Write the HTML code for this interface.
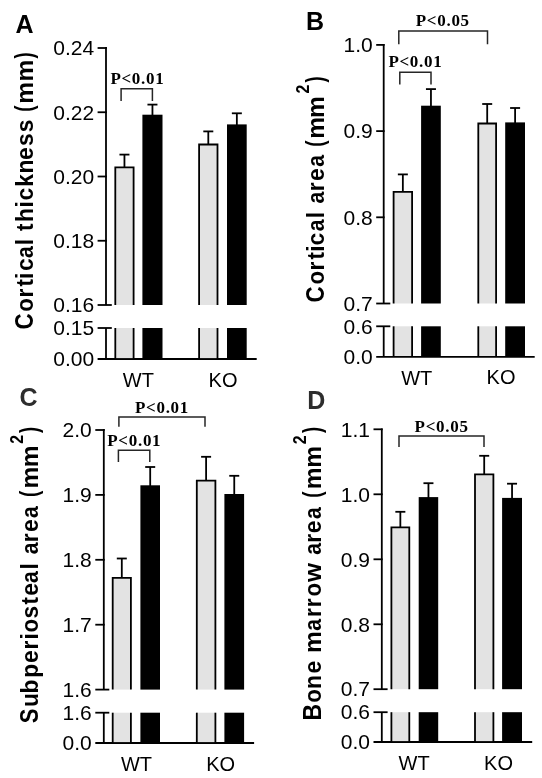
<!DOCTYPE html>
<html><head><meta charset="utf-8"><style>
html,body{margin:0;padding:0;background:#fff;}
svg{display:block;filter:grayscale(1);}
svg line, svg polyline{stroke:#000;stroke-width:1.8;stroke-linecap:butt;fill:none;}
svg rect{stroke:none;}
svg .br{stroke-width:1.5;stroke:#262626;}
.pl2{fill:#2d2d2d !important;}
.tk{font-family:"Liberation Sans",sans-serif;font-size:21px;fill:#000;}
.xl{font-family:"Liberation Sans",sans-serif;font-size:20px;fill:#000;}
.pv{font-family:"Liberation Serif",serif;font-size:17px;font-weight:bold;fill:#000;letter-spacing:0.7px;}
.pl{font-family:"Liberation Sans",sans-serif;font-size:25px;font-weight:bold;fill:#000;}
.ti{font-family:"Liberation Sans",sans-serif;font-size:25px;font-weight:bold;fill:#000;}
</style></head><body>
<svg width="542" height="778" viewBox="0 0 542 778">
<line x1="106" y1="47.1" x2="106" y2="305" />
<line x1="106" y1="328" x2="106" y2="359" />
<line x1="97.6" y1="48" x2="106.9" y2="48" />
<line x1="97.6" y1="112.25" x2="106.9" y2="112.25" />
<line x1="97.6" y1="176.5" x2="106.9" y2="176.5" />
<line x1="97.6" y1="240.75" x2="106.9" y2="240.75" />
<line x1="97.6" y1="305" x2="111.8" y2="305" />
<line x1="97.6" y1="328" x2="111.8" y2="328" />
<line x1="97.6" y1="359" x2="256.7" y2="359" />
<text class="tk" x="94.1" y="55.24" text-anchor="end">0.24</text>
<text class="tk" x="94.1" y="119.50" text-anchor="end">0.22</text>
<text class="tk" x="94.1" y="183.75" text-anchor="end">0.20</text>
<text class="tk" x="94.1" y="248.00" text-anchor="end">0.18</text>
<text class="tk" x="94.1" y="312.25" text-anchor="end">0.16</text>
<text class="tk" x="94.1" y="335.25" text-anchor="end">0.15</text>
<text class="tk" x="94.1" y="366.25" text-anchor="end">0.00</text>
<line x1="124.45" y1="154.6" x2="124.45" y2="167.4" />
<line x1="119.45" y1="154.6" x2="129.45" y2="154.6" />
<rect x="115.30" y="167.30" width="18.30" height="137.70" fill="#e3e3e3"/>
<rect x="115.30" y="328.00" width="18.30" height="30.10" fill="#e3e3e3"/>
<line x1="152.45" y1="104.6" x2="152.45" y2="115.7" />
<line x1="147.45" y1="104.6" x2="157.45" y2="104.6" />
<rect x="142.4" y="114.7" width="20.10" height="190.30" fill="#000" stroke="none"/>
<rect x="142.4" y="328" width="20.10" height="31.00" fill="#000" stroke="none"/>
<line x1="208.30" y1="131.4" x2="208.30" y2="144.6" />
<line x1="203.30" y1="131.4" x2="213.30" y2="131.4" />
<rect x="199.10" y="144.50" width="18.40" height="160.50" fill="#e3e3e3"/>
<rect x="199.10" y="328.00" width="18.40" height="30.10" fill="#e3e3e3"/>
<line x1="236.85" y1="113.3" x2="236.85" y2="125.4" />
<line x1="231.85" y1="113.3" x2="241.85" y2="113.3" />
<rect x="227.0" y="124.4" width="19.70" height="180.60" fill="#000" stroke="none"/>
<rect x="227.0" y="328" width="19.70" height="31.00" fill="#000" stroke="none"/>
<text class="pv" x="137.4" y="83.9" text-anchor="middle">P&lt;0.01</text>
<polyline class="br" points="121.1,101.0 121.1,88.8 152.4,88.8 152.4,101.0" fill="none"/>
<text class="xl" x="138.4" y="386.6" text-anchor="middle">WT</text>
<text class="xl" x="223" y="386.7" text-anchor="middle">KO</text>
<text class="pl" x="15.4" y="32.7">A</text>
<text class="ti" style="font-size:25px" transform="translate(33.3,321.20) rotate(-90) scale(0.89,1)" x="-9.20" y="0">C</text>
<text class="ti" style="font-size:23.5px" transform="translate(33.3,304.95) rotate(-90) scale(0.95,1)" x="-7.18" y="0">o</text>
<text class="ti" style="font-size:23.5px" transform="translate(33.3,292.40) rotate(-90) scale(0.97,1)" x="-5.17" y="0">r</text>
<text class="ti" style="font-size:23.5px" transform="translate(33.3,282.70) rotate(-90) scale(0.95,1)" x="-3.91" y="0">t</text>
<text class="ti" style="font-size:23.5px" transform="translate(33.3,275.75) rotate(-90) scale(0.97,1)" x="-3.25" y="0">i</text>
<text class="ti" style="font-size:23.5px" transform="translate(33.3,264.50) rotate(-90) scale(0.97,1)" x="-6.65" y="0">c</text>
<text class="ti" style="font-size:23.5px" transform="translate(33.3,251.65) rotate(-90) scale(0.9,1)" x="-6.95" y="0">a</text>
<text class="ti" style="font-size:23.5px" transform="translate(33.3,242.00) rotate(-90) scale(0.97,1)" x="-3.25" y="0">l</text>
<text class="ti" style="font-size:23.5px" transform="translate(33.3,227.40) rotate(-90) scale(0.95,1)" x="-3.91" y="0">t</text>
<text class="ti" style="font-size:23.5px" transform="translate(33.3,214.95) rotate(-90) scale(0.97,1)" x="-7.27" y="0">h</text>
<text class="ti" style="font-size:23.5px" transform="translate(33.3,204.25) rotate(-90) scale(0.97,1)" x="-3.25" y="0">i</text>
<text class="ti" style="font-size:23.5px" transform="translate(33.3,194.10) rotate(-90) scale(0.97,1)" x="-6.65" y="0">c</text>
<text class="ti" style="font-size:23.5px" transform="translate(33.3,179.60) rotate(-90) scale(0.97,1)" x="-7.37" y="0">k</text>
<text class="ti" style="font-size:23.5px" transform="translate(33.3,166.50) rotate(-90) scale(0.97,1)" x="-7.22" y="0">n</text>
<text class="ti" style="font-size:23.5px" transform="translate(33.3,153.70) rotate(-90) scale(0.97,1)" x="-6.59" y="0">e</text>
<text class="ti" style="font-size:23.5px" transform="translate(33.3,139.85) rotate(-90) scale(0.97,1)" x="-6.47" y="0">s</text>
<text class="ti" style="font-size:23.5px" transform="translate(33.3,125.95) rotate(-90) scale(0.97,1)" x="-6.47" y="0">s</text>
<text class="ti" style="font-size:25px" transform="translate(33.3,108.25) rotate(-90) scale(0.75,1)" x="-4.77" y="0">(</text>
<text class="ti" style="font-size:23.5px" transform="translate(33.3,92.95) rotate(-90) scale(1.04,1)" x="-10.49" y="0">m</text>
<text class="ti" style="font-size:23.5px" transform="translate(33.3,70.65) rotate(-90) scale(1.04,1)" x="-10.49" y="0">m</text>
<text class="ti" style="font-size:25px" transform="translate(33.3,55.80) rotate(-90) scale(0.73,1)" x="-3.55" y="0">)</text>
<polyline points="115.30,305 115.30,167.30 133.60,167.30 133.60,305" fill="none"/>
<line x1="115.30" y1="328" x2="115.30" y2="359"/>
<line x1="133.60" y1="328" x2="133.60" y2="359"/>
<polyline points="199.10,305 199.10,144.50 217.50,144.50 217.50,305" fill="none"/>
<line x1="199.10" y1="328" x2="199.10" y2="359"/>
<line x1="217.50" y1="328" x2="217.50" y2="359"/>
<line x1="383.7" y1="44.0" x2="383.7" y2="303.5" />
<line x1="383.7" y1="326.3" x2="383.7" y2="356.8" />
<line x1="376.2" y1="44.9" x2="384.59999999999997" y2="44.9" />
<line x1="376.2" y1="131.1" x2="384.59999999999997" y2="131.1" />
<line x1="376.2" y1="217.3" x2="384.59999999999997" y2="217.3" />
<line x1="376.2" y1="303.5" x2="390.3" y2="303.5" />
<line x1="376.2" y1="326.3" x2="390.3" y2="326.3" />
<line x1="376.2" y1="356.8" x2="534.7" y2="356.8" />
<text class="tk" x="372.7" y="52.14" text-anchor="end">1.0</text>
<text class="tk" x="372.7" y="138.34" text-anchor="end">0.9</text>
<text class="tk" x="372.7" y="224.55" text-anchor="end">0.8</text>
<text class="tk" x="372.7" y="310.75" text-anchor="end">0.7</text>
<text class="tk" x="372.7" y="333.55" text-anchor="end">0.6</text>
<text class="tk" x="372.7" y="364.05" text-anchor="end">0.0</text>
<line x1="402.85" y1="174.4" x2="402.85" y2="192.0" />
<line x1="397.85" y1="174.4" x2="407.85" y2="174.4" />
<rect x="393.60" y="191.90" width="18.50" height="111.60" fill="#e3e3e3"/>
<rect x="393.60" y="326.30" width="18.50" height="29.60" fill="#e3e3e3"/>
<line x1="430.95" y1="89.1" x2="430.95" y2="106.7" />
<line x1="425.95" y1="89.1" x2="435.95" y2="89.1" />
<rect x="421.1" y="105.7" width="19.70" height="197.80" fill="#000" stroke="none"/>
<rect x="421.1" y="326.3" width="19.70" height="30.50" fill="#000" stroke="none"/>
<line x1="487.20" y1="104.0" x2="487.20" y2="123.6" />
<line x1="482.20" y1="104.0" x2="492.20" y2="104.0" />
<rect x="478.30" y="123.50" width="17.80" height="180.00" fill="#e3e3e3"/>
<rect x="478.30" y="326.30" width="17.80" height="29.60" fill="#e3e3e3"/>
<line x1="515.10" y1="108.0" x2="515.10" y2="123.4" />
<line x1="510.10" y1="108.0" x2="520.10" y2="108.0" />
<rect x="505.2" y="122.4" width="19.80" height="181.10" fill="#000" stroke="none"/>
<rect x="505.2" y="326.3" width="19.80" height="30.50" fill="#000" stroke="none"/>
<text class="pv" x="442.8" y="26" text-anchor="middle">P&lt;0.05</text>
<polyline class="br" points="398.8,44.3 398.8,31.1 487.5,31.1 487.5,44.3" fill="none"/>
<text class="pv" x="415.4" y="67" text-anchor="middle">P&lt;0.01</text>
<polyline class="br" points="399.8,84.5 399.8,72.3 431.0,72.3 431.0,84.5" fill="none"/>
<text class="xl" x="416.7" y="385.2" text-anchor="middle">WT</text>
<text class="xl" x="501" y="384.4" text-anchor="middle">KO</text>
<text class="pl" x="306.0" y="29.5">B</text>
<text class="ti" style="font-size:25px" transform="translate(323.7,294.20) rotate(-90) scale(0.89,1)" x="-9.20" y="0">C</text>
<text class="ti" style="font-size:23.5px" transform="translate(323.7,277.80) rotate(-90) scale(0.95,1)" x="-7.18" y="0">o</text>
<text class="ti" style="font-size:23.5px" transform="translate(323.7,265.40) rotate(-90) scale(0.97,1)" x="-5.17" y="0">r</text>
<text class="ti" style="font-size:23.5px" transform="translate(323.7,255.70) rotate(-90) scale(0.95,1)" x="-3.91" y="0">t</text>
<text class="ti" style="font-size:23.5px" transform="translate(323.7,248.50) rotate(-90) scale(0.97,1)" x="-3.25" y="0">i</text>
<text class="ti" style="font-size:23.5px" transform="translate(323.7,239.00) rotate(-90) scale(0.97,1)" x="-6.65" y="0">c</text>
<text class="ti" style="font-size:23.5px" transform="translate(323.7,225.05) rotate(-90) scale(0.9,1)" x="-6.95" y="0">a</text>
<text class="ti" style="font-size:23.5px" transform="translate(323.7,215.00) rotate(-90) scale(0.97,1)" x="-3.25" y="0">l</text>
<text class="ti" style="font-size:23.5px" transform="translate(323.7,197.25) rotate(-90) scale(0.9,1)" x="-6.95" y="0">a</text>
<text class="ti" style="font-size:23.5px" transform="translate(323.7,186.30) rotate(-90) scale(0.97,1)" x="-5.17" y="0">r</text>
<text class="ti" style="font-size:23.5px" transform="translate(323.7,174.60) rotate(-90) scale(0.97,1)" x="-6.59" y="0">e</text>
<text class="ti" style="font-size:23.5px" transform="translate(323.7,160.55) rotate(-90) scale(0.9,1)" x="-6.95" y="0">a</text>
<text class="ti" style="font-size:25px" transform="translate(323.7,143.30) rotate(-90) scale(0.75,1)" x="-4.77" y="0">(</text>
<text class="ti" style="font-size:23.5px" transform="translate(323.7,127.80) rotate(-90) scale(1.04,1)" x="-10.49" y="0">m</text>
<text class="ti" style="font-size:23.5px" transform="translate(323.7,107.05) rotate(-90) scale(1.04,1)" x="-10.49" y="0">m</text>
<text class="ti" style="font-size:18.5px" transform="translate(308.7,89.15) rotate(-90) scale(0.86,1)" x="-5.09" y="0">2</text>
<text class="ti" style="font-size:25px" transform="translate(323.7,80.00) rotate(-90) scale(0.73,1)" x="-3.55" y="0">)</text>
<polyline points="393.60,303.5 393.60,191.90 412.10,191.90 412.10,303.5" fill="none"/>
<line x1="393.60" y1="326.3" x2="393.60" y2="356.8"/>
<line x1="412.10" y1="326.3" x2="412.10" y2="356.8"/>
<polyline points="478.30,303.5 478.30,123.50 496.10,123.50 496.10,303.5" fill="none"/>
<line x1="478.30" y1="326.3" x2="478.30" y2="356.8"/>
<line x1="496.10" y1="326.3" x2="496.10" y2="356.8"/>
<line x1="103.8" y1="429.1" x2="103.8" y2="689.6" />
<line x1="103.8" y1="712.7" x2="103.8" y2="743" />
<line x1="95.3" y1="430" x2="104.7" y2="430" />
<line x1="95.3" y1="494.9" x2="104.7" y2="494.9" />
<line x1="95.3" y1="559.8" x2="104.7" y2="559.8" />
<line x1="95.3" y1="624.7" x2="104.7" y2="624.7" />
<line x1="95.3" y1="689.6" x2="109.3" y2="689.6" />
<line x1="95.3" y1="712.7" x2="109.3" y2="712.7" />
<line x1="95.3" y1="743" x2="254.1" y2="743" />
<text class="tk" x="91.8" y="437.25" text-anchor="end">2.0</text>
<text class="tk" x="91.8" y="502.14" text-anchor="end">1.9</text>
<text class="tk" x="91.8" y="567.04" text-anchor="end">1.8</text>
<text class="tk" x="91.8" y="631.95" text-anchor="end">1.7</text>
<text class="tk" x="91.8" y="696.85" text-anchor="end">1.6</text>
<text class="tk" x="91.8" y="719.95" text-anchor="end">1.6</text>
<text class="tk" x="91.8" y="750.25" text-anchor="end">0.0</text>
<line x1="121.80" y1="558.5" x2="121.80" y2="578.0" />
<line x1="116.80" y1="558.5" x2="126.80" y2="558.5" />
<rect x="112.70" y="577.90" width="18.20" height="111.70" fill="#e3e3e3"/>
<rect x="112.70" y="712.70" width="18.20" height="29.40" fill="#e3e3e3"/>
<line x1="150.20" y1="467.0" x2="150.20" y2="486.3" />
<line x1="145.20" y1="467.0" x2="155.20" y2="467.0" />
<rect x="140.4" y="485.3" width="19.60" height="204.30" fill="#000" stroke="none"/>
<rect x="140.4" y="712.7" width="19.60" height="30.30" fill="#000" stroke="none"/>
<line x1="206.10" y1="456.8" x2="206.10" y2="480.8" />
<line x1="201.10" y1="456.8" x2="211.10" y2="456.8" />
<rect x="196.80" y="480.70" width="18.60" height="208.90" fill="#e3e3e3"/>
<rect x="196.80" y="712.70" width="18.60" height="29.40" fill="#e3e3e3"/>
<line x1="234.25" y1="475.8" x2="234.25" y2="495.0" />
<line x1="229.25" y1="475.8" x2="239.25" y2="475.8" />
<rect x="224.4" y="494.0" width="19.70" height="195.60" fill="#000" stroke="none"/>
<rect x="224.4" y="712.7" width="19.70" height="30.30" fill="#000" stroke="none"/>
<text class="pv" x="162" y="412.7" text-anchor="middle">P&lt;0.01</text>
<polyline class="br" points="118.9,426.8 118.9,417.1 205.0,417.1 205.0,426.8" fill="none"/>
<text class="pv" x="134.3" y="445.9" text-anchor="middle">P&lt;0.01</text>
<polyline class="br" points="118.4,462.0 118.4,450.3 149.8,450.3 149.8,462.0" fill="none"/>
<text class="xl" x="136.5" y="770.7" text-anchor="middle">WT</text>
<text class="xl" x="220.7" y="770.7" text-anchor="middle">KO</text>
<text class="pl pl2" x="19.599999999999998" y="405.5">C</text>
<text class="ti" style="font-size:25px" transform="translate(38.3,716.00) rotate(-90) scale(0.88,1)" x="-8.21" y="0">S</text>
<text class="ti" style="font-size:23.5px" transform="translate(38.3,700.00) rotate(-90) scale(0.97,1)" x="-7.13" y="0">u</text>
<text class="ti" style="font-size:23.5px" transform="translate(38.3,686.30) rotate(-90) scale(0.97,1)" x="-7.47" y="0">b</text>
<text class="ti" style="font-size:23.5px" transform="translate(38.3,670.45) rotate(-90) scale(0.97,1)" x="-7.47" y="0">p</text>
<text class="ti" style="font-size:23.5px" transform="translate(38.3,656.60) rotate(-90) scale(0.97,1)" x="-6.59" y="0">e</text>
<text class="ti" style="font-size:23.5px" transform="translate(38.3,644.50) rotate(-90) scale(0.97,1)" x="-5.17" y="0">r</text>
<text class="ti" style="font-size:23.5px" transform="translate(38.3,636.35) rotate(-90) scale(0.97,1)" x="-3.25" y="0">i</text>
<text class="ti" style="font-size:23.5px" transform="translate(38.3,625.70) rotate(-90) scale(0.95,1)" x="-7.18" y="0">o</text>
<text class="ti" style="font-size:23.5px" transform="translate(38.3,612.15) rotate(-90) scale(0.97,1)" x="-6.47" y="0">s</text>
<text class="ti" style="font-size:23.5px" transform="translate(38.3,600.90) rotate(-90) scale(0.95,1)" x="-3.91" y="0">t</text>
<text class="ti" style="font-size:23.5px" transform="translate(38.3,589.30) rotate(-90) scale(0.97,1)" x="-6.59" y="0">e</text>
<text class="ti" style="font-size:23.5px" transform="translate(38.3,576.70) rotate(-90) scale(0.9,1)" x="-6.95" y="0">a</text>
<text class="ti" style="font-size:23.5px" transform="translate(38.3,566.35) rotate(-90) scale(0.97,1)" x="-3.25" y="0">l</text>
<text class="ti" style="font-size:23.5px" transform="translate(38.3,548.10) rotate(-90) scale(0.9,1)" x="-6.95" y="0">a</text>
<text class="ti" style="font-size:23.5px" transform="translate(38.3,537.25) rotate(-90) scale(0.97,1)" x="-5.17" y="0">r</text>
<text class="ti" style="font-size:23.5px" transform="translate(38.3,525.70) rotate(-90) scale(0.97,1)" x="-6.59" y="0">e</text>
<text class="ti" style="font-size:23.5px" transform="translate(38.3,511.85) rotate(-90) scale(0.9,1)" x="-6.95" y="0">a</text>
<text class="ti" style="font-size:25px" transform="translate(38.3,493.50) rotate(-90) scale(0.75,1)" x="-4.77" y="0">(</text>
<text class="ti" style="font-size:23.5px" transform="translate(38.3,477.50) rotate(-90) scale(1.04,1)" x="-10.49" y="0">m</text>
<text class="ti" style="font-size:23.5px" transform="translate(38.3,456.35) rotate(-90) scale(1.04,1)" x="-10.49" y="0">m</text>
<text class="ti" style="font-size:18.5px" transform="translate(23.299999999999997,439.50) rotate(-90) scale(0.86,1)" x="-5.09" y="0">2</text>
<text class="ti" style="font-size:25px" transform="translate(38.3,430.40) rotate(-90) scale(0.73,1)" x="-3.55" y="0">)</text>
<polyline points="112.70,689.6 112.70,577.90 130.90,577.90 130.90,689.6" fill="none"/>
<line x1="112.70" y1="712.7" x2="112.70" y2="743"/>
<line x1="130.90" y1="712.7" x2="130.90" y2="743"/>
<polyline points="196.80,689.6 196.80,480.70 215.40,480.70 215.40,689.6" fill="none"/>
<line x1="196.80" y1="712.7" x2="196.80" y2="743"/>
<line x1="215.40" y1="712.7" x2="215.40" y2="743"/>
<line x1="381.8" y1="428.40000000000003" x2="381.8" y2="689.2" />
<line x1="381.8" y1="712.2" x2="381.8" y2="742" />
<line x1="373.5" y1="429.3" x2="382.7" y2="429.3" />
<line x1="373.5" y1="494.3" x2="382.7" y2="494.3" />
<line x1="373.5" y1="559.3" x2="382.7" y2="559.3" />
<line x1="373.5" y1="624.3" x2="382.7" y2="624.3" />
<line x1="373.5" y1="689.2" x2="387.6" y2="689.2" />
<line x1="373.5" y1="712.2" x2="387.6" y2="712.2" />
<line x1="373.5" y1="742" x2="532.2" y2="742" />
<text class="tk" x="370.0" y="436.55" text-anchor="end">1.1</text>
<text class="tk" x="370.0" y="501.55" text-anchor="end">1.0</text>
<text class="tk" x="370.0" y="566.54" text-anchor="end">0.9</text>
<text class="tk" x="370.0" y="631.54" text-anchor="end">0.8</text>
<text class="tk" x="370.0" y="696.45" text-anchor="end">0.7</text>
<text class="tk" x="370.0" y="719.45" text-anchor="end">0.6</text>
<text class="tk" x="370.0" y="749.25" text-anchor="end">0.0</text>
<line x1="400.35" y1="511.8" x2="400.35" y2="527.4" />
<line x1="395.35" y1="511.8" x2="405.35" y2="511.8" />
<rect x="391.40" y="527.30" width="17.90" height="161.90" fill="#e3e3e3"/>
<rect x="391.40" y="712.20" width="17.90" height="28.90" fill="#e3e3e3"/>
<line x1="428.45" y1="483.2" x2="428.45" y2="498.1" />
<line x1="423.45" y1="483.2" x2="433.45" y2="483.2" />
<rect x="418.7" y="497.1" width="19.50" height="192.10" fill="#000" stroke="none"/>
<rect x="418.7" y="712.2" width="19.50" height="29.80" fill="#000" stroke="none"/>
<line x1="484.20" y1="455.8" x2="484.20" y2="474.5" />
<line x1="479.20" y1="455.8" x2="489.20" y2="455.8" />
<rect x="475.00" y="474.40" width="18.40" height="214.80" fill="#e3e3e3"/>
<rect x="475.00" y="712.20" width="18.40" height="28.90" fill="#e3e3e3"/>
<line x1="512.05" y1="483.7" x2="512.05" y2="498.9" />
<line x1="507.05" y1="483.7" x2="517.05" y2="483.7" />
<rect x="502.1" y="497.9" width="19.90" height="191.30" fill="#000" stroke="none"/>
<rect x="502.1" y="712.2" width="19.90" height="29.80" fill="#000" stroke="none"/>
<text class="pv" x="441.6" y="431.6" text-anchor="middle">P&lt;0.05</text>
<polyline class="br" points="399.0,447.0 399.0,436.0 484.0,436.0 484.0,447.0" fill="none"/>
<text class="xl" x="414.1" y="769.6" text-anchor="middle">WT</text>
<text class="xl" x="498.5" y="769.5" text-anchor="middle">KO</text>
<text class="pl pl2" x="307.29999999999995" y="408.6">D</text>
<text class="ti" style="font-size:25px" transform="translate(321,712.00) rotate(-90) scale(0.92,1)" x="-9.30" y="0">B</text>
<text class="ti" style="font-size:23.5px" transform="translate(321,696.05) rotate(-90) scale(0.95,1)" x="-7.18" y="0">o</text>
<text class="ti" style="font-size:23.5px" transform="translate(321,681.95) rotate(-90) scale(0.97,1)" x="-7.22" y="0">n</text>
<text class="ti" style="font-size:23.5px" transform="translate(321,667.10) rotate(-90) scale(0.97,1)" x="-6.59" y="0">e</text>
<text class="ti" style="font-size:23.5px" transform="translate(321,642.15) rotate(-90) scale(1.04,1)" x="-10.49" y="0">m</text>
<text class="ti" style="font-size:23.5px" transform="translate(321,624.55) rotate(-90) scale(0.9,1)" x="-6.95" y="0">a</text>
<text class="ti" style="font-size:23.5px" transform="translate(321,612.10) rotate(-90) scale(0.97,1)" x="-5.17" y="0">r</text>
<text class="ti" style="font-size:23.5px" transform="translate(321,602.15) rotate(-90) scale(0.97,1)" x="-5.17" y="0">r</text>
<text class="ti" style="font-size:23.5px" transform="translate(321,589.70) rotate(-90) scale(0.95,1)" x="-7.18" y="0">o</text>
<text class="ti" style="font-size:23.5px" transform="translate(321,572.60) rotate(-90) scale(1.04,1)" x="-9.13" y="0">w</text>
<text class="ti" style="font-size:23.5px" transform="translate(321,548.60) rotate(-90) scale(0.9,1)" x="-6.95" y="0">a</text>
<text class="ti" style="font-size:23.5px" transform="translate(321,537.85) rotate(-90) scale(0.97,1)" x="-5.17" y="0">r</text>
<text class="ti" style="font-size:23.5px" transform="translate(321,526.90) rotate(-90) scale(0.97,1)" x="-6.59" y="0">e</text>
<text class="ti" style="font-size:23.5px" transform="translate(321,512.70) rotate(-90) scale(0.9,1)" x="-6.95" y="0">a</text>
<text class="ti" style="font-size:25px" transform="translate(321,494.25) rotate(-90) scale(0.75,1)" x="-4.77" y="0">(</text>
<text class="ti" style="font-size:23.5px" transform="translate(321,478.30) rotate(-90) scale(1.04,1)" x="-10.49" y="0">m</text>
<text class="ti" style="font-size:23.5px" transform="translate(321,456.90) rotate(-90) scale(1.04,1)" x="-10.49" y="0">m</text>
<text class="ti" style="font-size:18.5px" transform="translate(306,439.95) rotate(-90) scale(0.86,1)" x="-5.09" y="0">2</text>
<text class="ti" style="font-size:25px" transform="translate(321,430.40) rotate(-90) scale(0.73,1)" x="-3.55" y="0">)</text>
<polyline points="391.40,689.2 391.40,527.30 409.30,527.30 409.30,689.2" fill="none"/>
<line x1="391.40" y1="712.2" x2="391.40" y2="742"/>
<line x1="409.30" y1="712.2" x2="409.30" y2="742"/>
<polyline points="475.00,689.2 475.00,474.40 493.40,474.40 493.40,689.2" fill="none"/>
<line x1="475.00" y1="712.2" x2="475.00" y2="742"/>
<line x1="493.40" y1="712.2" x2="493.40" y2="742"/>
</svg>
</body></html>
